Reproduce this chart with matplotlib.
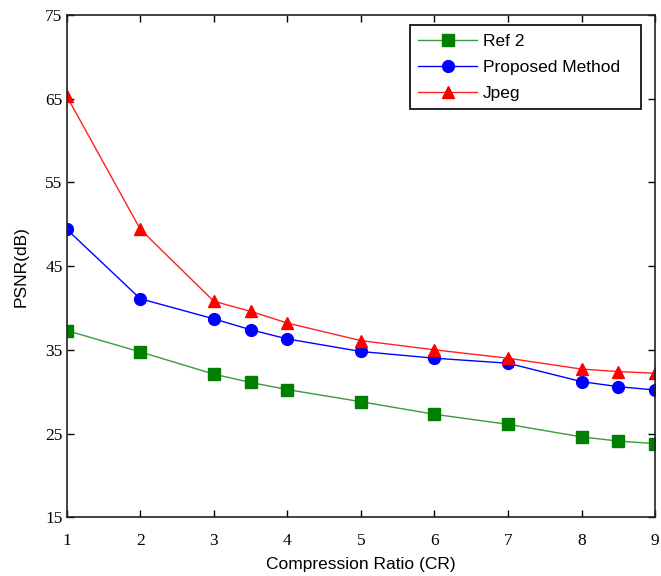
import matplotlib
matplotlib.use('Agg')
import matplotlib.pyplot as plt

cr = [1, 2, 3, 3.5, 4, 5, 6, 7, 8, 8.5, 9]
ref2 = [37.3, 34.75, 32.1, 31.1, 30.25, 28.8, 27.3, 26.1, 24.6, 24.1, 23.8]
proposed = [49.4, 41.1, 38.7, 37.4, 36.3, 34.8, 34.0, 33.4, 31.2, 30.6, 30.2]
jpeg = [65.3, 49.4, 40.8, 39.6, 38.2, 36.1, 35.0, 34.0, 32.7, 32.4, 32.2]

xticks = [1, 2, 3, 4, 5, 6, 7, 8, 9]
yticks = [15, 25, 35, 45, 55, 65, 75]

fig = plt.figure(figsize=(6.61, 5.76), dpi=100)
ax = fig.add_axes([0.101, 0.102, 0.89, 0.872])

ax.plot(cr, ref2, '-', color='#3a9a3a', lw=1, marker='s', ms=8.5,
        mfc='#007f00', mec='#007f00', label='Ref 2')
ax.plot(cr, proposed, '-', color='#0000ff', lw=1, marker='o', ms=8.5,
        mfc='#0000ff', mec='#0000ff', label='Proposed Method')
ax.plot(cr, jpeg, '-', color='#ff2020', lw=1, marker='^', ms=8.5,
        mfc='#ff0000', mec='#ff0000', label='Jpeg')

ax.set_xlim(1, 9)
ax.set_ylim(15, 75)
ax.set_xticks(xticks)
ax.set_yticks(yticks)
ax.tick_params(direction='in', top=True, right=True, length=5, width=1)
ax.tick_params(axis='x', pad=11)
ax.tick_params(axis='y', pad=3)
for lab in ax.get_xticklabels() + ax.get_yticklabels():
    lab.set_family('Liberation Serif')
    lab.set_fontsize(12.5)
for s in ax.spines.values():
    s.set_linewidth(1.2)
    s.set_color('#222222')

ax.set_xlabel('Compression Ratio (CR)', family='Liberation Sans', fontsize=12.5, labelpad=6)
ax.set_ylabel('PSNR(dB)', family='Liberation Sans', fontsize=12.5, labelpad=12)

leg = ax.legend(loc='upper left', bbox_to_anchor=(0.583, 0.5, 0.393, 0.48),
                mode='expand', borderaxespad=0,
                prop={'family': 'Liberation Sans', 'size': 12.5},
                fancybox=False, edgecolor='black', framealpha=1,
                handlelength=3.4, handletextpad=0.3,
                labelspacing=0.62, borderpad=0.5)
leg.get_frame().set_linewidth(1.2)

plt.savefig('out.png', dpi=100)
